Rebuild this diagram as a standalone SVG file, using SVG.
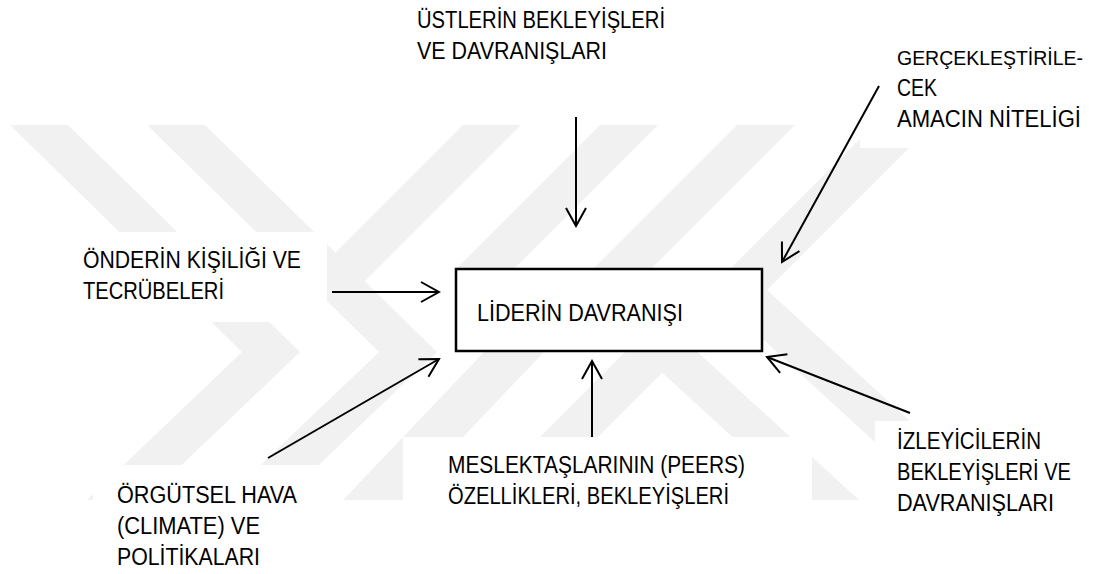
<svg xmlns="http://www.w3.org/2000/svg" width="1099" height="574" viewBox="0 0 1099 574">
  <style>
    .wm { fill: #f1f1f1; }
    .pad { fill: #ffffff; }
    .lbl { font-family: "Liberation Sans", Arial, sans-serif; font-size: 23px; fill: #000; }
    .tight { font-size: 21px; }
    .box { fill: #ffffff; stroke: #000; stroke-width: 2.5; }
    .edge { stroke: #000; stroke-width: 2; fill: none; marker-end: url(#open); }
  </style>
  <defs>
    <marker id="open" viewBox="-20 -12 22 24" refX="0" refY="0" markerWidth="22" markerHeight="24" markerUnits="userSpaceOnUse" orient="auto">
      <path d="M-18,-10 L0,0 L-18,10" fill="none" stroke="#000" stroke-width="2"/>
    </marker>
  </defs>
  <rect width="1099" height="574" fill="#ffffff"/>

  <!-- faint background emblem -->
  <g id="emblem">
    <polygon class="wm" points="10,125 68,125 300,352 145,500 87,500 242,352"/>
    <polygon class="wm" points="147,125 205,125 437,352 282,500 224,500 379,352"/>
    <polygon class="wm" points="874,125 932,125 767,290 996,500 938,500 709,290"/>
    <polygon class="wm" points="737,125 795,125 630,290 859,500 801,500 572,290"/>
    <polygon class="wm" points="463,125 521,125 356,290 298,290"/>
    <polygon class="wm" points="600,125 658,125 514,269 456,269"/>
    <polygon class="wm" points="343,500 403,500 545,351 485,351"/>
    <polygon class="wm" points="540,437 598,437 684,351 626,351"/>
  </g>

  <!-- label backgrounds -->
  <g id="label-pads">
    <rect class="pad" x="0" y="232" width="327" height="90"/>
    <rect class="pad" x="93" y="465" width="250" height="109"/>
    <rect class="pad" x="403" y="437" width="409" height="137"/>
    <rect class="pad" x="875" y="421" width="224" height="153"/>
    <rect class="pad" x="860" y="0" width="239" height="148"/>
  </g>

  <g id="connectors">
    <line class="edge" x1="576" y1="117" x2="576" y2="226"/>
    <line class="edge" x1="879" y1="86" x2="782" y2="262"/>
    <line class="edge" x1="332" y1="292" x2="439" y2="292"/>
    <line class="edge" x1="268" y1="458" x2="439" y2="359"/>
    <line class="edge" x1="592" y1="437" x2="592" y2="361"/>
    <line class="edge" x1="910" y1="413" x2="767" y2="357"/>
  </g>

  <g id="node-center">
    <rect class="box" x="456" y="269" width="306" height="82"/>
    <text class="lbl" x="477" y="321" textLength="206" lengthAdjust="spacingAndGlyphs">LİDERİN DAVRANIŞI</text>
  </g>

  <g id="node-top">
    <text class="lbl" x="417" y="28" textLength="248" lengthAdjust="spacingAndGlyphs">ÜSTLERİN BEKLEYİŞLERİ</text>
    <text class="lbl" x="417" y="59" textLength="190" lengthAdjust="spacingAndGlyphs">VE DAVRANIŞLARI</text>
  </g>

  <g id="node-top-right">
    <text class="lbl tight" x="897" y="65" textLength="186" lengthAdjust="spacingAndGlyphs">GERÇEKLEŞTİRİLE-</text>
    <text class="lbl" x="897" y="96" textLength="40" lengthAdjust="spacingAndGlyphs">CEK</text>
    <text class="lbl" x="897" y="127" textLength="184" lengthAdjust="spacingAndGlyphs">AMACIN NİTELİGİ</text>
  </g>

  <g id="node-left">
    <text class="lbl" x="83" y="268" textLength="218" lengthAdjust="spacingAndGlyphs">ÖNDERİN KİŞİLİĞİ VE</text>
    <text class="lbl" x="83" y="299" textLength="141" lengthAdjust="spacingAndGlyphs">TECRÜBELERİ</text>
  </g>

  <g id="node-bottom-left">
    <text class="lbl" x="117" y="503" textLength="180" lengthAdjust="spacingAndGlyphs">ÖRGÜTSEL HAVA</text>
    <text class="lbl" x="117" y="534" textLength="143" lengthAdjust="spacingAndGlyphs">(CLIMATE) VE</text>
    <text class="lbl" x="117" y="565" textLength="143" lengthAdjust="spacingAndGlyphs">POLİTİKALARI</text>
  </g>

  <g id="node-bottom">
    <text class="lbl" x="448" y="473" textLength="297" lengthAdjust="spacingAndGlyphs">MESLEKTAŞLARININ (PEERS)</text>
    <text class="lbl" x="448" y="504" textLength="281" lengthAdjust="spacingAndGlyphs">ÖZELLİKLERİ, BEKLEYİŞLERİ</text>
  </g>

  <g id="node-bottom-right">
    <text class="lbl" x="897" y="449" textLength="144" lengthAdjust="spacingAndGlyphs">İZLEYİCİLERİN</text>
    <text class="lbl" x="897" y="480" textLength="174" lengthAdjust="spacingAndGlyphs">BEKLEYİŞLERİ VE</text>
    <text class="lbl" x="897" y="511" textLength="157" lengthAdjust="spacingAndGlyphs">DAVRANIŞLARI</text>
  </g>
</svg>
